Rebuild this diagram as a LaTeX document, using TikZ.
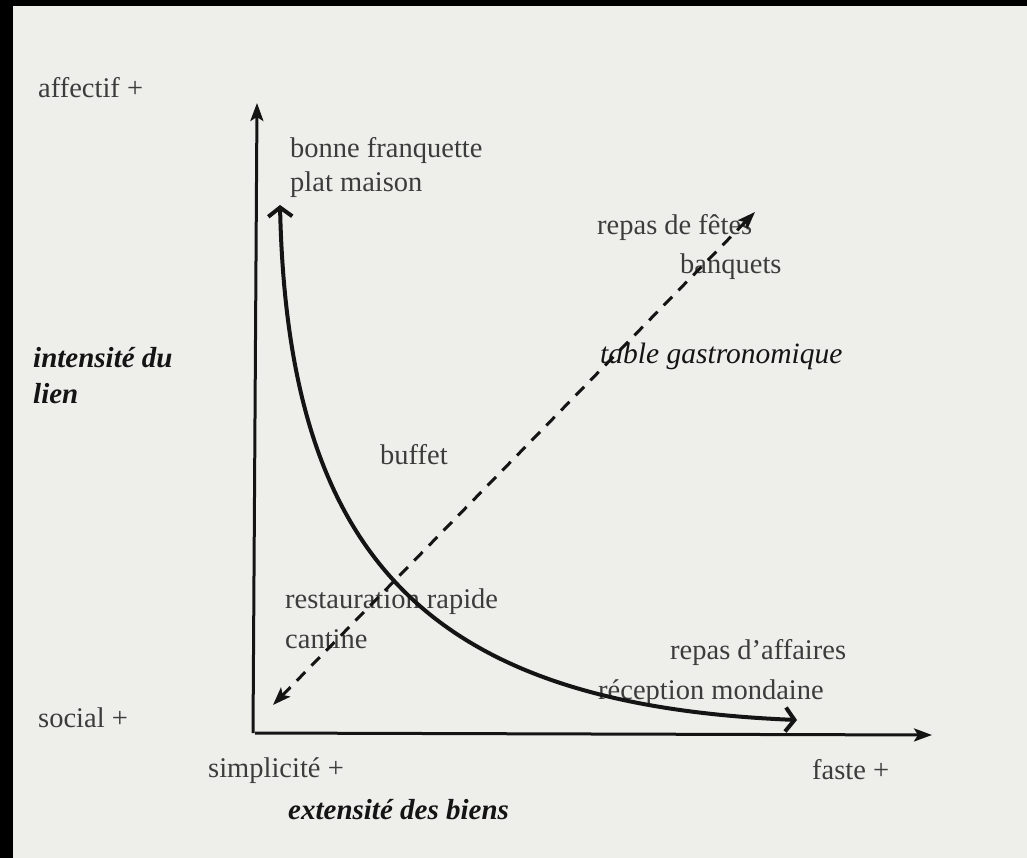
\documentclass[tikz,border=0pt]{standalone}
\usepackage{fontspec}
\setmainfont{Liberation Serif}
\usepackage{xcolor}
\definecolor{cPaper}{HTML}{EEEEEB}
\definecolor{cInk}{HTML}{141414}
\definecolor{cText}{HTML}{3C3C3C}
\usetikzlibrary{arrows.meta}
\tikzset{
  label-plain/.style={text=cText,inner sep=0pt,anchor=base west,
    font=\fontsize{28.5}{32}\selectfont},
  label-italic/.style={text=cInk,inner sep=0pt,anchor=base west,
    font=\fontsize{29.5}{32}\selectfont\itshape},
  label-axis/.style={text=cInk,inner sep=0pt,anchor=base west,
    font=\fontsize{29}{32}\selectfont\bfseries\itshape},
  arrow-axis/.style={-{Stealth[length=18pt,width=13pt,inset=4pt]},line width=3pt,draw=cInk},
  arrow-curve/.style={{Straight Barb[length=9pt,width=24pt,line width=4pt]}-{Straight Barb[length=9pt,width=24pt,line width=4pt]},
    line width=4pt,draw=cInk},
  arrow-dashed/.style={{Stealth[length=18pt,width=13pt,inset=4pt]}-{Stealth[length=18pt,width=13pt,inset=4pt]},
    line width=3pt,draw=cInk,dash pattern=on 12pt off 9pt},
}
\begin{document}
\begin{tikzpicture}[x=1pt,y=-1pt]
  % page and scan edges
  \fill[cPaper] (0,0) rectangle (1027,858);
  \fill[black] (0,0) rectangle (13,858);
  \fill[black] (0,0) rectangle (1027,6);
  \useasboundingbox (0,0) rectangle (1027,858);

  % axes
  \coordinate (origin) at (255,733);
  \coordinate (y-top) at (257,103);
  \coordinate (x-end) at (932,735);
  \draw[arrow-axis] (253,733) -- (y-top);
  \draw[arrow-axis] (255,733) -- (x-end);

  % labels
  \node[label-plain] (affectif) at (38,98) {affectif +};
  \node[label-plain] (social) at (38,727) {social +};
  \node[label-plain] (simple) at (208,777) {simplicité~+};
  \node[label-plain] (faste) at (812,779) {faste~+};
  \node[label-axis] (intens1) at (33,367) {intensité du};
  \node[label-axis] (intens2) at (33,403) {lien};
  \node[label-axis] (extens) at (288,819) {extensité des biens};

  \node[label-plain] (bonne) at (290,158) {bonne franquette};
  \node[label-plain] (plat) at (290,192) {plat maison};
  \node[label-plain] (fetes) at (597,235) {repas de fêtes};
  \node[label-plain] (banquets) at (680,274) {banquets};
  \node[label-italic] (gastro) at (600,363) {table gastronomique};
  \node[label-plain] (buffet) at (380,464) {buffet};
  \node[label-plain] (rapide) at (285,608) {restauration rapide};
  \node[label-plain] (cantine) at (285,648) {cantine};
  \node[label-plain] (affaires) at (670,659) {repas d’affaires};
  \node[label-plain] (mondaine) at (598,699) {réception mondaine};

  % the two curves
  \coordinate (curve-top) at (280,205);
  \coordinate (curve-end) at (797,720);
  \coordinate (dash-low) at (273,705);
  \coordinate (dash-high) at (755,212);
  \draw[arrow-curve] (curve-top) .. controls (288,560) and (430,705) .. (curve-end);
  \draw[arrow-dashed] (dash-low) -- (dash-high);
\end{tikzpicture}
\end{document}
